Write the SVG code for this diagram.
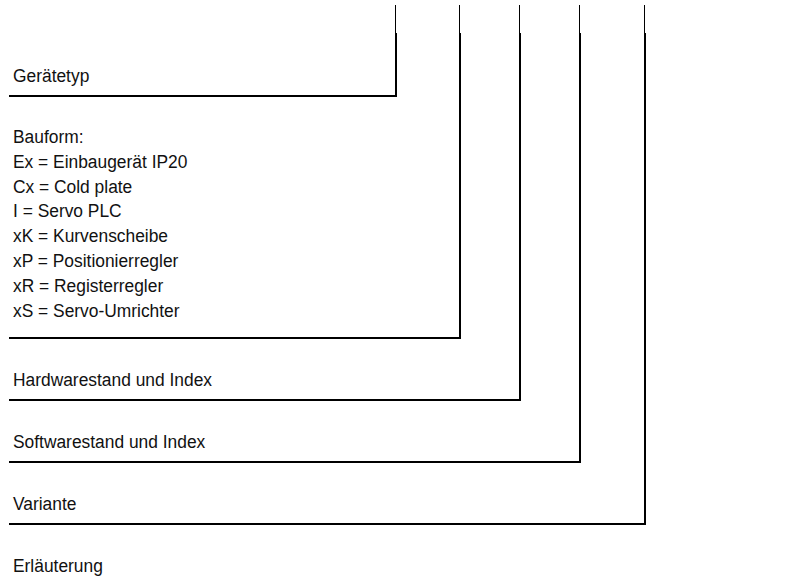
<svg xmlns="http://www.w3.org/2000/svg" width="810" height="582" viewBox="0 0 810 582">
<style>
text{font-family:"Liberation Sans",Arial,sans-serif;font-size:19px;fill:#111}
.thick{stroke:#000;stroke-width:2;fill:none}
.thin{stroke:#000;stroke-width:1;fill:none}
</style>
<rect width="810" height="582" fill="#fff"/>
<g id="connectors">
<line class="thin" x1="395.5" y1="5" x2="395.5" y2="33"/>
<line class="thin" x1="459.5" y1="5" x2="459.5" y2="33"/>
<line class="thin" x1="519.5" y1="5" x2="519.5" y2="33"/>
<line class="thin" x1="579.5" y1="5" x2="579.5" y2="33"/>
<line class="thin" x1="644.5" y1="5" x2="644.5" y2="33"/>
<polyline class="thick" points="9,96 396,96 396,33"/>
<polyline class="thick" points="9,338 460,338 460,33"/>
<polyline class="thick" points="9,400 520,400 520,33"/>
<polyline class="thick" points="9,462 580,462 580,33"/>
<polyline class="thick" points="9,524 645,524 645,33"/>
</g>
<g transform="scale(0.915,1)">
<g id="geraetetyp"><text x="14.2" y="82">Gerätetyp</text></g>
<g id="bauform">
<text x="14.2" y="143">Bauform:</text>
<text x="14.2" y="167.8">Ex = Einbaugerät IP20</text>
<text x="14.2" y="192.6">Cx = Cold plate</text>
<text x="14.2" y="217.4">I = Servo PLC</text>
<text x="14.2" y="242.2">xK = Kurvenscheibe</text>
<text x="14.2" y="267">xP = Positionierregler</text>
<text x="14.2" y="291.8">xR = Registerregler</text>
<text x="14.2" y="316.6">xS = Servo-Umrichter</text>
</g>
<g id="hardware"><text x="14.2" y="386">Hardwarestand und Index</text></g>
<g id="software"><text x="14.2" y="448">Softwarestand und Index</text></g>
<g id="variante"><text x="14.2" y="510">Variante</text></g>
<g id="erlaeuterung"><text x="14.2" y="572">Erläuterung</text></g>
</g>
</svg>
